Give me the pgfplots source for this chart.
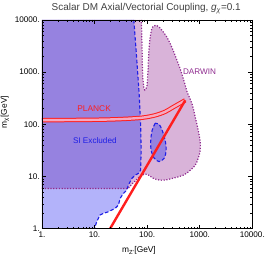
\documentclass[border=0pt]{standalone}
\usepackage{fontspec}
\setmainfont{Liberation Sans}
\usepackage{pgfplots}
\pgfplotsset{compat=1.18}
\definecolor{siblue}{HTML}{B3B3FA}
\definecolor{overlap}{HTML}{9682E0}
\definecolor{dpink}{HTML}{D9B3D9}
\definecolor{dpurple}{HTML}{8E2A8E}
\definecolor{siline}{HTML}{1E1EE6}
\definecolor{planck}{HTML}{FF1E1E}
\definecolor{tubein}{HTML}{F6A8C0}
\definecolor{titlegray}{HTML}{404040}
\begin{document}
\begin{tikzpicture}
\path[use as bounding box] (-42bp,-25.3bp) rectangle (224bp,228.7bp);
\begin{axis}[
  at={(0,0)}, anchor=south west,
  scale only axis, width=210.3bp, height=208.7bp,
  clip mode=individual,
  xmode=log, ymode=log, xmin=1, xmax=10000, ymin=1, ymax=10000,
  xtick={1,10,100,1000,10000}, xticklabels={1.,10.,100.,1000.,10000.},
  ytick={1,10,100,1000,10000}, yticklabels={1.,10.,100.,1000.,10000.},
  minor xtick={2,3,4,5,6,7,8,9,20,30,40,50,60,70,80,90,200,300,400,500,600,700,800,900,2000,3000,4000,5000,6000,7000,8000,9000},
  minor ytick={2,3,4,5,6,7,8,9,20,30,40,50,60,70,80,90,200,300,400,500,600,700,800,900,2000,3000,4000,5000,6000,7000,8000,9000},
  tick align=inside, major tick length=4bp, minor tick length=2.2bp,
  tick style={black, line width=0.5bp},
  axis line style={line width=0.8bp},
  ticklabel style={font=\fontsize{8.2}{9}\selectfont},
  xticklabel style={inner sep=0pt, yshift=-3bp},
  yticklabel style={inner sep=0pt, xshift=-2bp},
  axis on top,
]
% SI excluded region (light blue)
\addplot[fill=siblue, draw=none] coordinates {
(1,1) (10.2,1) (10.2,1.09) (11,1.36) (12.7,1.83) (14.7,1.97) (18.3,2.11) (24.6,2.45) (28.4,2.84) (30.6,3.81) (35.4,4.75) (41,5.5) (44,6.85) (51.1,9.2) (59,10.6) (68.3,11.5) (75.2,13.2) (76.9,32) (75.2,96) (70.4,394) (61.7,2610) (55.8,10000) (1,10000)};
% DARWIN region (pink)
\addplot[fill=dpink, draw=none] coordinates {
(1,5.87) (43.5,5.87) (47.5,6.55) (53,7.4) (59,8.17) (66,9.2) (73.6,10.2) (85,10.9) (100,11.1) (115,10.1) (130,9.3) (150,8.8) (177,8.5) (230,8.6) (313,9.3) (400,9.9) (485,10.6) (580,11.8) (659,13.2) (750,14.8) (821,16.5) (890,19.3) (936,22.5) (990,27) (1023,32) (1030,38) (1023,45.5) (990,58) (936,77) (880,103) (821,137) (770,185) (719,242) (650,315) (578,411) (530,560) (485,761) (440,1050) (389,1470) (350,1950) (313,2610) (275,3500) (240,4630) (213,5500) (193,6300) (170,7300) (148,7950) (136,7700) (128.5,7410) (121,6500) (115.6,5120) (111,3700) (107.7,2466) (105.5,1600) (104.5,1183) (102,800) (100,567) (95,480) (90.4,455) (86.5,490) (82.8,761) (81,1400) (80.3,2466) (79,5000) (77.9,10000) (1,10000)};
% overlap region
\addplot[fill=overlap, draw=none] coordinates {
(1,5.87) (42.3,5.87) (44,6.85) (51.1,9.2) (59,10.6) (68.3,11.5) (75.2,13.2) (76.9,32) (75.2,96) (70.4,394) (61.7,2610) (55.8,10000) (1,10000)};
% SI island
\addplot[fill=overlap, draw=siline, line width=1.1bp, dash pattern=on 3.5bp off 2.2bp, smooth] coordinates {
(142,105) (124.5,77) (117,49.7) (119,32) (136,22.5) (169,19.3) (211,22.5) (230,32) (220,49.7) (193,77) (169,100) (142,105)};
% SI boundary
\addplot[siline, line width=1.1bp, dash pattern=on 3.5bp off 2.2bp] coordinates {
(55.8,10000) (61.7,2610) (70.4,394) (75.2,96) (76.9,32) (75.2,13.2) (68.3,11.5) (59,10.6) (51.1,9.2) (44,6.85) (41,5.5) (35.4,4.75) (30.6,3.81) (28.4,2.84) (24.6,2.45) (18.3,2.11) (14.7,1.97) (12.7,1.83) (11,1.36) (10.2,1.09) (10.2,1)};
% DARWIN boundary
\addplot[dpurple, line width=1.2bp, dash pattern=on 1.2bp off 1.6bp] coordinates {
(1,5.87) (43.5,5.87) (47.5,6.55) (53,7.4) (59,8.17) (66,9.2) (73.6,10.2) (85,10.9) (100,11.1) (115,10.1) (130,9.3) (150,8.8) (177,8.5) (230,8.6) (313,9.3) (400,9.9) (485,10.6) (580,11.8) (659,13.2) (750,14.8) (821,16.5) (890,19.3) (936,22.5) (990,27) (1023,32) (1030,38) (1023,45.5) (990,58) (936,77) (880,103) (821,137) (770,185) (719,242) (650,315) (578,411) (530,560) (485,761) (440,1050) (389,1470) (350,1950) (313,2610) (275,3500) (240,4630) (213,5500) (193,6300) (170,7300) (148,7950) (136,7700) (128.5,7410) (121,6500) (115.6,5120) (111,3700) (107.7,2466) (105.5,1600) (104.5,1183) (102,800) (100,567) (95,480) (90.4,455) (86.5,490) (82.8,761) (81,1400) (80.3,2466) (79,5000) (77.9,10000)};
% PLANCK
\addplot[planck, line width=1bp, double=tubein, double distance=2.4bp, smooth] coordinates {
(1,120) (10.2,122.4) (30.6,126) (80.3,134) (142,149) (220,174) (299,208) (389,242) (530,289)};
\addplot[planck, line width=2.4bp] coordinates {(19.7,1) (530,289)};
% labels
\node[font=\fontsize{8.2}{9}\selectfont, text=dpurple] at (axis cs:991,1004) {DARWIN};
\node[font=\fontsize{8.4}{9}\selectfont, text=planck] at (axis cs:9.8,203) {PLANCK};
\node[font=\fontsize{8.2}{9}\selectfont, text=siline] at (axis cs:10.1,49.7) {SI Excluded};
\node[anchor=base, yshift=9.2bp, font=\fontsize{10}{12}\selectfont, text=titlegray] at (rel axis cs:0.4955,1) {Scalar DM Axial/Vectorial Coupling, {\itshape g}\textsubscript{\itshape χ}=0.1};
\node[yshift=-22bp, font=\fontsize{8.4}{9}\selectfont] at (rel axis cs:0.461,0) {m\textsubscript{Z'}[GeV]};
\node[rotate=90, font=\fontsize{8.4}{9}\selectfont] at ([xshift=-37bp]rel axis cs:0,0.559) {m\textsubscript{χ}[GeV]};
\end{axis}
\end{tikzpicture}
\end{document}
